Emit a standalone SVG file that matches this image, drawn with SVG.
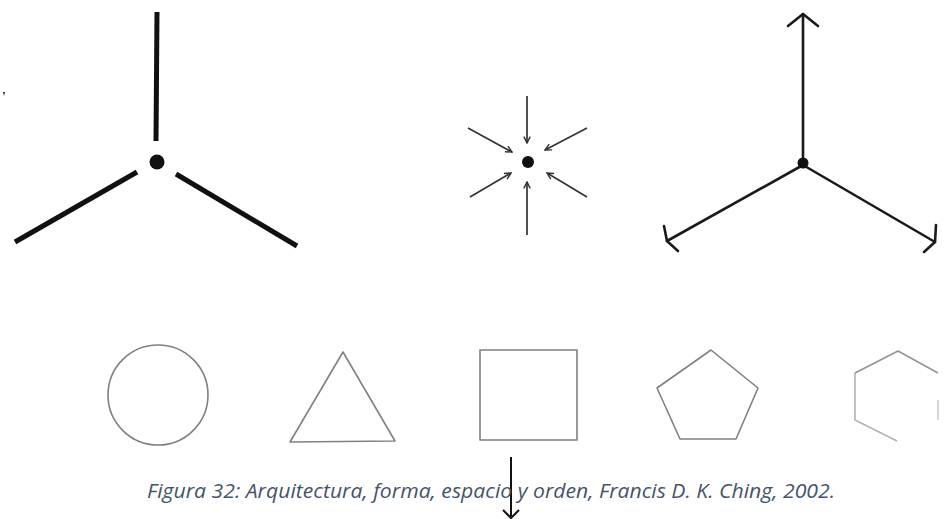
<svg xmlns="http://www.w3.org/2000/svg" width="944" height="519" viewBox="0 0 944 519">
<defs>
<style>
.thick{stroke:#111;stroke-width:5;stroke-linecap:butt;fill:none}
.mid{stroke:#1a1a1a;stroke-width:2.6;stroke-linecap:round;stroke-linejoin:round;fill:none}
.thin{stroke:#333;stroke-width:1.7;fill:none}
.shape{stroke:#808080;stroke-width:1.6;fill:none;stroke-linejoin:round}
.cap{font-family:"Open Sans","Liberation Sans",sans-serif;font-style:italic;font-size:20px;fill:#44546a}
</style>
<marker id="ah" viewBox="0 0 10 10" refX="9" refY="5" markerWidth="8" markerHeight="8" orient="auto" markerUnits="userSpaceOnUse">
<path d="M1,1 L9,5 L1,9" fill="none" stroke="#333" stroke-width="1.8"/>
</marker>
</defs>
<rect width="944" height="519" fill="#fff"/>

<g id="radial-thick">
<line class="thick" x1="157" y1="12" x2="156" y2="141"/>
<circle cx="157" cy="162" r="7.5" fill="#111"/>
<line class="thick" x1="137" y1="172" x2="15" y2="242"/>
<line class="thick" x1="176" y1="174" x2="297" y2="246"/>
<path d="M3,92 L5,92 L4,96 Z" fill="#222"/>
</g>

<g id="converging">
<circle cx="528" cy="162" r="6" fill="#111"/>
<line class="thin" x1="527" y1="96" x2="527" y2="143" marker-end="url(#ah)"/>
<line class="thin" x1="468" y1="128" x2="512" y2="152" marker-end="url(#ah)"/>
<line class="thin" x1="587" y1="128" x2="545" y2="150" marker-end="url(#ah)"/>
<line class="thin" x1="470" y1="197" x2="511" y2="173" marker-end="url(#ah)"/>
<line class="thin" x1="587" y1="197" x2="547" y2="173" marker-end="url(#ah)"/>
<line class="thin" x1="527" y1="235" x2="527" y2="182" marker-end="url(#ah)"/>
</g>

<g id="diverging">
<line class="mid" x1="803" y1="165" x2="803" y2="14"/>
<path class="mid" d="M788,26 L803,14 L818,26"/>
<line class="mid" x1="803" y1="165" x2="667" y2="241"/>
<path class="mid" d="M664,226 L667,241 L678,251"/>
<line class="mid" x1="803" y1="165" x2="935" y2="242"/>
<path class="mid" d="M936,225 L935,242 L924,252"/>
<circle cx="803" cy="163" r="5.5" fill="#111"/>
</g>

<g id="circle"><circle class="shape" cx="158" cy="395" r="50"/></g>
<g id="triangle"><polygon class="shape" points="343,352 395,441 290,442"/></g>
<g id="square"><rect class="shape" x="480" y="350" width="97" height="90"/></g>
<g id="pentagon"><polygon class="shape" points="711,350 758,388 736,439 680,439 657,388"/></g>
<g id="hexagon">
<path class="shape" d="M938,373 L898,351 L855,373" opacity="0.85"/>
<path class="shape" d="M855,373 L855,420 L897,441" opacity="0.6"/>
<path class="shape" d="M938,400 L938,420" opacity="0.4"/>
</g>

<g id="connectors">
<line x1="511" y1="457" x2="511" y2="516" stroke="#111" stroke-width="2"/>
<path d="M503,510 L511,518 L519,510" fill="none" stroke="#111" stroke-width="2"/>
</g>

<text class="cap" x="147" y="498" textLength="688" lengthAdjust="spacingAndGlyphs">Figura 32: Arquitectura, forma, espacio y orden, Francis D. K. Ching, 2002.</text>
</svg>
